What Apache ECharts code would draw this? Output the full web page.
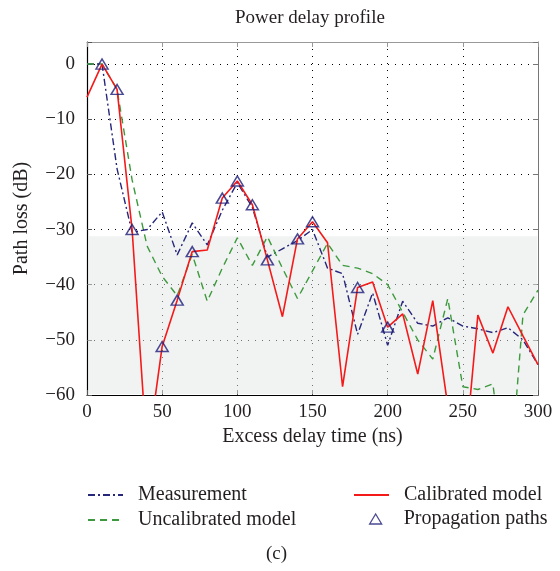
<!DOCTYPE html>
<html lang="en">
<head>
    <meta charset="UTF-8">
    <title>Power delay profile</title>
    <script type="text/javascript" src="https://cdn.jsdelivr.net/npm/echarts@6/dist/echarts.min.js"></script>
    <style type="text/css">
        html, body {margin:0; padding:0; background:#fff;}
        #main {width:560px; height:571px;}
    </style>
</head>
<body>
<div id="main"></div>
<script type="text/javascript">
    // excess delay (ns), one sample every 10 ns
    var delays = [0,10,20,30,40,50,60,70,80,90,100,110,120,130,140,150,160,170,180,190,200,210,220,230,240,250,260,270,280,290,300];
    // path loss (dB)
    var measurement = [0,0,-19,-30.5,-30,-26.8,-34.6,-28.8,-32.8,-26.5,-21.5,-26,-35,-33.5,-32,-30,-37,-38,-49,-41.5,-51,-43,-47,-47.5,-46,-47.5,-48,-48.7,-47.8,-50,-54.5];
    var uncalibrated = [0,0,-4.6,-21,-33,-38.5,-42,-34.5,-43,-37,-31.5,-36.5,-31.3,-37,-42.5,-37.5,-32.5,-36.5,-37,-38,-40,-45,-50,-53.5,-42.5,-58.5,-59,-58,-80,-45.5,-41];
    var calibrated = [-6,0,-4.6,-30,-71,-51.2,-42.8,-34,-33.7,-24.3,-21.2,-25.5,-35.5,-45.8,-31.7,-28.6,-32.4,-58.5,-40.5,-39.5,-47.7,-45.3,-56.2,-42.9,-62,-75,-45.5,-52.4,-44,-49.3,-54.5];
    // propagation paths
    var pathDelays = [10,20,30,50,60,70,90,100,110,120,140,150,180,200];
    var pathLoss = [0,-4.6,-30,-51.2,-42.8,-34,-24.3,-21.2,-25.5,-35.5,-31.7,-28.6,-40.5,-47.7];
    // noise floor (shaded band)
    var floorLevel = -31.2;

    function pairs(xs, ys) {
        var out = [];
        for (var i = 0; i < xs.length; i++) {
            out.push([xs[i], ys[i]]);
        }
        return out;
    }

    var serif = 'Liberation Serif';
    var txt = '#231f20';
    var legendText = {fontFamily: serif, fontSize: 20, color: txt, padding: [0, 0, 0, 10]};
    var noSymbol = {opacity: 0};

    var myChart = echarts.init(document.getElementById('main'));
    var option = {
        animation: false,
        backgroundColor: '#fff',
        grid: {left: 87, right: 22, top: 42, bottom: 176},
        graphic: [
            {type: 'text', left: 235, top: 9, style: {text: 'Power delay profile', font: '19px ' + serif, fill: txt}},
            {type: 'text', left: 266, top: 545, style: {text: '(c)', font: '19px ' + serif, fill: txt}}
        ],
        legend: [{
            left: 87, top: 485, orient: 'vertical', padding: 0,
            itemWidth: 35, itemHeight: 12, itemGap: 5,
            textStyle: legendText,
            data: [{name: 'Measurement', itemStyle: noSymbol}, {name: 'Uncalibrated model', itemStyle: noSymbol}]
        }, {
            left: 353, top: 485, orient: 'vertical', padding: 0,
            itemWidth: 35, itemHeight: 12,
            textStyle: legendText,
            data: [{name: 'Calibrated model', itemStyle: noSymbol}]
        }, {
            left: 369, top: 509, orient: 'vertical', padding: 0,
            itemWidth: 12, itemHeight: 10,
            textStyle: {fontFamily: serif, fontSize: 20, color: txt, padding: [0, 0, 0, 17]},
            data: [{name: 'Propagation paths', icon: 'triangle',
                itemStyle: {color: 'rgba(0,0,0,0)', borderColor: '#1d1d78', borderWidth: 1.3}}]
        }],
        xAxis: [{
            type: 'value', min: 0, max: 300, interval: 50, position: 'bottom',
            name: 'Excess delay time (ns)', nameLocation: 'middle', nameGap: 32,
            nameTextStyle: {fontFamily: serif, fontSize: 20, color: txt},
            axisLine: {onZero: false, lineStyle: {color: '#000', width: 1.2}},
            axisTick: {inside: true, length: 5, lineStyle: {color: '#555'}},
            axisLabel: {fontFamily: serif, fontSize: 19, color: txt, margin: 8},
            splitLine: {show: true, lineStyle: {color: '#000', type: [1, 6], width: 1}}
        }, {
            type: 'value', min: 0, max: 300, interval: 50, position: 'top',
            axisLine: {show: true, onZero: false, lineStyle: {color: '#999'}},
            axisTick: {show: true, inside: true, length: 5, lineStyle: {color: '#999'}},
            axisLabel: {show: false}, splitLine: {show: false}
        }],
        yAxis: [{
            type: 'value', min: -60, max: 4, interval: 10, position: 'left',
            name: 'Path loss (dB)', nameLocation: 'middle', nameGap: 55,
            nameTextStyle: {fontFamily: serif, fontSize: 20, color: txt},
            axisLine: {show: true, onZero: false, lineStyle: {color: '#000', width: 1.2}},
            axisTick: {show: true, inside: true, length: 5, lineStyle: {color: '#555'}},
            axisLabel: {fontFamily: serif, fontSize: 19, color: txt, margin: 12,
                formatter: function (v) { return v > 0 ? '' : String(v).replace('-', '\u2212'); }},
            splitLine: {show: true, lineStyle: {color: '#000', type: [1, 6], width: 1}}
        }, {
            type: 'value', min: -60, max: 4, interval: 10, position: 'right',
            axisLine: {show: true, onZero: false, lineStyle: {color: '#777'}},
            axisTick: {show: true, inside: true, length: 5, lineStyle: {color: '#777'}},
            axisLabel: {show: false}, splitLine: {show: false}
        }],
        series: [{
            name: 'Measurement', type: 'line', symbol: 'none', z: 3,
            data: pairs(delays, measurement),
            itemStyle: {color: '#26267a'},
            lineStyle: {color: '#26267a', width: 1.4, type: [7, 3, 2, 3]}
        }, {
            name: 'Uncalibrated model', type: 'line', symbol: 'none',
            data: pairs(delays, uncalibrated),
            itemStyle: {color: '#3c9a3c'},
            lineStyle: {color: '#3c9a3c', width: 1.4, type: [7, 5]}
        }, {
            name: 'Calibrated model', type: 'line', symbol: 'none', z: 3,
            data: pairs(delays, calibrated),
            itemStyle: {color: '#f41a1a'},
            lineStyle: {color: '#f41a1a', width: 1.6}
        }, {
            name: 'Propagation paths', type: 'scatter', symbol: 'triangle', symbolSize: [12, 10],
            data: pairs(pathDelays, pathLoss), z: 4,
            itemStyle: {color: 'rgba(0,0,0,0)', borderColor: '#1d1d78', borderWidth: 1.5}
        }, {
            name: 'floor', type: 'line', data: [], z: 6, silent: true,
            markArea: {
                silent: true,
                itemStyle: {color: 'rgba(227,229,229,0.5)'},
                data: [[{coord: [0.7, floorLevel]}, {coord: [299.5, -59.8]}]]
            }
        }]
    };
    myChart.setOption(option);
</script>
</body>
</html>
